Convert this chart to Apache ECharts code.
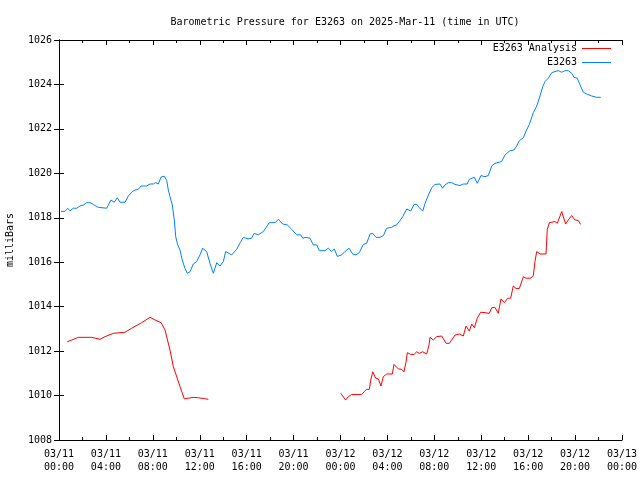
<!DOCTYPE html>
<html>
<head>
<meta charset="utf-8">
<script src="https://cdn.jsdelivr.net/npm/echarts@6/dist/echarts.min.js"></script>
<style>html,body{margin:0;padding:0;background:#fff}#c{width:640px;height:480px}</style>
</head>
<body>
<div id="c"></div>
<script>
// hours since 2025-03-11 00:00 UTC
const tickLabels = ['03/11\n00:00','03/11\n04:00','03/11\n08:00','03/11\n12:00','03/11\n16:00','03/11\n20:00',
  '03/12\n00:00','03/12\n04:00','03/12\n08:00','03/12\n12:00','03/12\n16:00','03/12\n20:00','03/13\n00:00'];

const stationHours = [0.17,0.51,0.74,0.94,1.22,1.51,1.79,2.07,2.36,2.64,2.92,3.35,3.50,4.07,4.20,4.43,4.71,4.97,5.20,5.63,
  5.91,6.25,6.48,6.76,6.99,7.48,7.76,8.04,8.24,8.47,8.70,8.98,9.18,9.32,9.46,9.66,9.83,9.95,10.12,10.32,
  10.51,10.74,10.94,11.17,11.45,11.74,12.02,12.25,12.59,12.87,13.16,13.45,13.73,14.01,14.21,14.72,15.15,15.47,15.71,16.11,
  16.41,16.64,16.99,17.42,17.93,18.42,18.70,19.07,19.46,19.84,20.27,20.61,20.78,21.06,21.40,21.68,21.97,22.19,22.68,22.96,
  23.25,23.47,23.73,24.10,24.38,24.73,25.04,25.32,25.60,25.94,26.23,26.52,26.75,27.03,27.37,27.66,27.94,28.37,28.56,28.79,
  29.01,29.30,29.65,29.99,30.27,30.50,30.72,31.01,31.21,31.49,31.78,32.06,32.48,32.71,32.91,33.19,33.48,33.76,34.19,34.47,
  34.81,34.98,35.41,35.66,35.98,36.32,36.60,36.89,37.17,37.74,38.03,38.45,38.79,39.02,39.25,39.59,39.82,40.10,40.44,40.73,
  41.01,41.24,41.44,41.72,42.01,42.29,42.57,42.86,43.14,43.42,43.71,43.91,44.19,44.42,44.70,44.99,45.42,45.84,46.18];
const stationPressure = [1018.29,1018.29,1018.43,1018.31,1018.43,1018.43,1018.53,1018.57,1018.68,1018.68,1018.60,1018.47,1018.43,1018.43,1018.50,1018.80,1018.70,1018.90,1018.70,1018.70,
  1018.98,1019.18,1019.25,1019.28,1019.43,1019.43,1019.52,1019.52,1019.58,1019.52,1019.83,1019.87,1019.68,1019.25,1018.96,1018.58,1017.90,1017.15,1016.78,1016.55,
  1016.10,1015.72,1015.50,1015.57,1015.92,1016.03,1016.33,1016.63,1016.48,1015.95,1015.50,1015.98,1015.83,1016.03,1016.48,1016.33,1016.58,1016.90,1017.12,1017.05,
  1017.08,1017.30,1017.23,1017.38,1017.78,1017.78,1017.93,1017.72,1017.68,1017.48,1017.23,1017.23,1017.08,1017.12,1017.08,1016.78,1016.78,1016.52,1016.52,1016.63,
  1016.48,1016.60,1016.26,1016.33,1016.48,1016.63,1016.37,1016.33,1016.43,1016.80,1016.85,1017.27,1017.30,1017.12,1017.12,1017.20,1017.53,1017.57,1017.64,1017.68,
  1017.83,1018.05,1018.40,1018.30,1018.60,1018.60,1018.46,1018.30,1018.65,1019.02,1019.36,1019.50,1019.52,1019.33,1019.48,1019.58,1019.58,1019.50,1019.45,1019.52,
  1019.52,1019.73,1019.82,1019.55,1019.90,1019.85,1019.90,1020.33,1020.45,1020.53,1020.83,1021.02,1021.05,1021.23,1021.47,1021.60,1021.90,1022.20,1022.73,1023.03,
  1023.48,1023.90,1024.13,1024.28,1024.53,1024.58,1024.62,1024.55,1024.62,1024.62,1024.50,1024.32,1024.28,1023.98,1023.65,1023.57,1023.48,1023.42,1023.42];

const analysisHours = [0.71,1.08,1.65,2.79,3.50,3.92,4.63,5.63,6.20,7.05,7.76,8.19,8.70,9.04,9.46,9.75,10.32,10.68,11.02,11.45,
  11.88,12.39,12.73,18.00,
  24.02,24.19,24.44,24.67,24.96,25.81,26.03,26.23,26.46,26.58,26.75,27.00,27.22,27.45,27.65,27.94,28.42,28.56,28.73,28.93,
  29.22,29.41,29.59,29.70,29.99,30.27,30.50,30.72,31.01,31.35,31.55,31.63,31.91,32.20,32.63,33.00,33.28,33.76,34.13,34.47,
  34.70,34.98,35.19,35.41,35.66,35.95,36.32,36.68,36.89,37.17,37.45,37.68,37.97,38.26,38.51,38.73,38.96,39.25,39.59,39.82,
  40.22,40.44,40.58,40.73,41.01,41.52,41.63,41.81,42.29,42.48,42.86,43.20,43.42,43.71,43.99,44.27,44.48];
const analysisPressure = [1012.42,1012.50,1012.62,1012.62,1012.53,1012.65,1012.80,1012.85,1013.03,1013.28,1013.52,1013.40,1013.28,1012.95,1012.05,1011.30,1010.40,1009.85,1009.88,1009.92,
  1009.90,1009.86,1009.83,null,
  1010.10,1010.10,1009.80,1009.95,1010.05,1010.05,1010.18,1010.28,1010.28,1010.70,1011.07,1010.78,1010.75,1010.43,1010.85,1010.97,1010.97,1011.40,1011.45,1011.20,
  1011.18,1011.07,1011.52,1011.93,1011.85,1011.85,1011.97,1011.90,1011.97,1011.87,1012.28,1012.62,1012.50,1012.65,1012.68,1012.35,1012.35,1012.72,1012.77,1012.68,
  1013.13,1012.90,1013.22,1013.05,1013.48,1013.75,1013.73,1013.70,1013.95,1013.97,1013.70,1014.35,1014.18,1014.38,1014.38,1014.93,1014.82,1014.82,1015.35,1015.28,
  1015.28,1015.40,1016.03,1016.48,1016.37,1016.37,1017.48,1017.78,1017.83,1017.75,1018.28,1017.72,1017.90,1018.10,1017.90,1017.88,1017.70];

const FONT = '"DejaVu Sans Mono", "Liberation Mono", monospace';
const chart = echarts.init(document.getElementById('c'), null, {renderer: 'canvas'});

const pair = (hs, vs) => hs.map((h, i) => [h, vs[i] === null ? '-' : vs[i]]);

const commonX = {
  type: 'value', min: 0, max: 48, interval: 4,
  axisLine: {show: true, lineStyle: {color: '#000', width: 1}},
  axisTick: {show: true, inside: true, length: 5, lineStyle: {color: '#000'}},
  minorTick: {show: true, splitNumber: 2, length: 3, lineStyle: {color: '#000'}},
  splitLine: {show: false}
};
const commonY = {
  type: 'value', min: 1008, max: 1026, interval: 2,
  axisLine: {show: true, lineStyle: {color: '#000', width: 1}},
  axisTick: {show: true, inside: true, length: 5, lineStyle: {color: '#000'}},
  splitLine: {show: false}
};

chart.setOption({
  animation: false,
  backgroundColor: '#fff',
  title: {
    text: 'Barometric Pressure for E3263 on 2025-Mar-11 (time in UTC)',
    left: 340, textAlign: 'center', top: 12,
    textStyle: {fontFamily: FONT, fontSize: 10, fontWeight: 'normal', color: '#000'}
  },
  legend: {
    orient: 'vertical', right: 29, top: 42, padding: 0, itemGap: 1,
    align: 'right', itemWidth: 29, itemHeight: 1, icon: 'rect',
    textStyle: {fontFamily: FONT, fontSize: 10, color: '#000', lineHeight: 13},
    data: [
      {name: 'E3263 Analysis', itemStyle: {color: '#ff0000'}},
      {name: 'E3263', itemStyle: {color: '#0080ff'}}
    ]
  },
  grid: {left: 59, right: 18, top: 40, bottom: 40, containLabel: false, outerBoundsMode: 'none'},
  xAxis: [
    Object.assign({}, commonX, {
      position: 'bottom',
      axisLabel: {
        show: true, margin: 8, color: '#000', fontFamily: FONT, fontSize: 10, lineHeight: 13,
        formatter: v => tickLabels[Math.round(v / 4)]
      }
    }),
    Object.assign({}, commonX, {position: 'top', axisLabel: {show: false}})
  ],
  yAxis: [
    Object.assign({}, commonY, {
      position: 'left',
      name: 'milliBars', nameLocation: 'middle', nameRotate: 90, nameGap: 44,
      nameTextStyle: {fontFamily: FONT, fontSize: 10, color: '#000'},
      axisLabel: {show: true, margin: 7, color: '#000', fontFamily: FONT, fontSize: 10, formatter: v => String(v)}
    }),
    Object.assign({}, commonY, {position: 'right', axisLabel: {show: false}})
  ],
  series: [
    {
      name: 'E3263 Analysis', type: 'line', xAxisIndex: 0, yAxisIndex: 0,
      data: pair(analysisHours, analysisPressure), showSymbol: false, symbol: 'none',
      connectNulls: false, color: '#ff0000', lineStyle: {color: '#ff0000', width: 1}
    },
    {
      name: 'E3263', type: 'line', xAxisIndex: 0, yAxisIndex: 0,
      data: pair(stationHours, stationPressure), showSymbol: false, symbol: 'none',
      color: '#0080ff', lineStyle: {color: '#0080ff', width: 1}
    }
  ]
});
</script>
</body>
</html>
